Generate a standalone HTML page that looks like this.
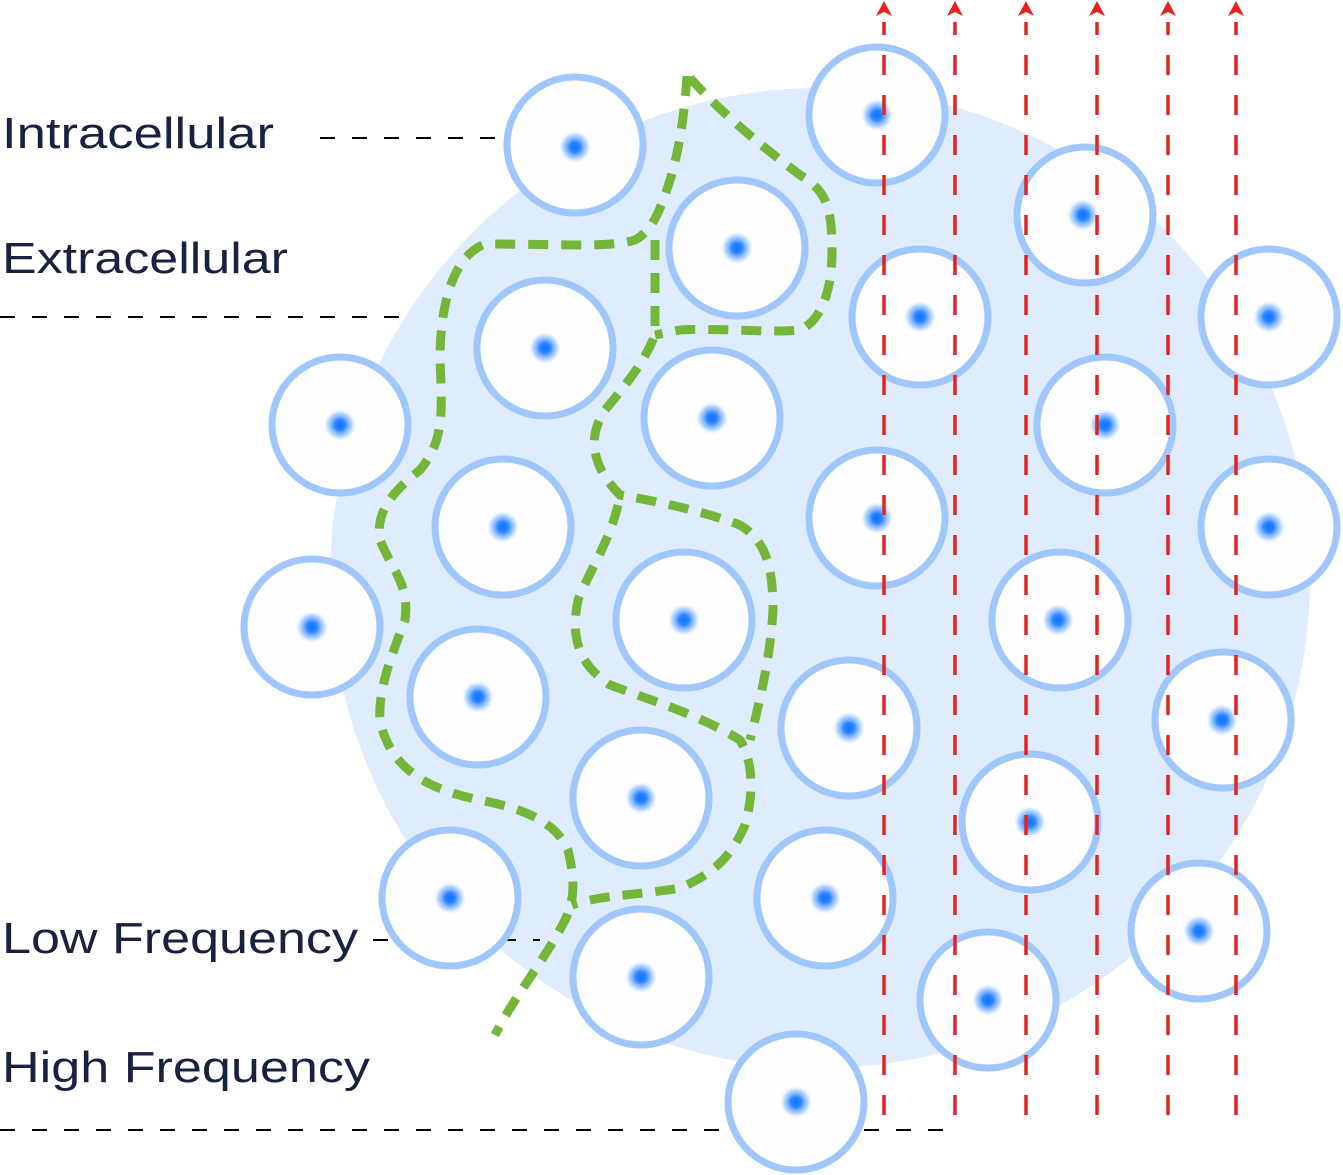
<!DOCTYPE html>
<html><head><meta charset="utf-8"><style>
html,body{margin:0;padding:0;background:#fff;}
svg{display:block;}
text{font-family:"Liberation Sans",sans-serif;fill:#18213f;font-size:44px;}
</style></head><body>
<svg width="1343" height="1175" viewBox="0 0 1343 1175" xmlns="http://www.w3.org/2000/svg">
<defs>
<radialGradient id="nuc">
<stop offset="0" stop-color="#0f72ff"/>
<stop offset="0.3" stop-color="#2a85ff"/>
<stop offset="0.7" stop-color="#8dbdff" stop-opacity="0.6"/>
<stop offset="1" stop-color="#ffffff" stop-opacity="0"/>
</radialGradient>
</defs>
<circle cx="820" cy="578" r="490" fill="#deecfd"/>
<g stroke="#000" stroke-width="2" stroke-dasharray="15 17" fill="none">
<line x1="320" y1="138" x2="532" y2="138"/>
<line x1="0" y1="317" x2="402" y2="317"/>
<line x1="373" y1="940" x2="540" y2="940"/>
<line x1="0" y1="1130" x2="960" y2="1130"/>
</g>
<g fill="none" stroke="#74b638" stroke-width="9" stroke-dasharray="20 13">
<path d="M687,76 C684,120 678,160 665,195 C658,215 650,232 635,240 C610,248 560,244 485,244 C455,255 440,300 440,360 C442,410 445,440 420,470 C395,490 375,510 380,540 C392,570 410,585 405,620 C390,660 378,690 380,720 C390,770 430,790 480,800 C520,808 555,820 568,850 C575,880 575,900 565,920 C545,960 515,995 495,1035"/>
<path d="M690,78 C710,100 740,130 800,175 C825,190 832,205 832,250 C832,290 822,320 800,330 C770,333 720,328 680,330 L655,335"/>
<path d="M655,240 L655,335 C645,360 630,380 605,410 C585,440 595,470 620,495 C650,500 700,510 740,525 C765,540 773,565 773,610 C770,660 760,700 750,740"/>
<path d="M618,505 C610,540 590,570 578,600 C570,640 580,665 610,685 C650,700 700,715 740,740 C752,760 755,790 745,825 C730,860 710,875 680,888 C640,895 600,895 572,905"/>
</g>
<g stroke="#9fc7fc" stroke-width="7" fill="#fefefe">
<circle cx="575" cy="145" r="68"/><circle cx="877" cy="115" r="68"/><circle cx="737" cy="248" r="68"/>
<circle cx="1085" cy="215" r="68"/><circle cx="545" cy="348" r="68"/><circle cx="920" cy="317" r="68"/>
<circle cx="1269" cy="317" r="68"/><circle cx="340" cy="425" r="68"/><circle cx="712" cy="418" r="68"/>
<circle cx="1105" cy="425" r="68"/><circle cx="503" cy="527" r="68"/><circle cx="877" cy="518" r="68"/>
<circle cx="1269" cy="527" r="68"/><circle cx="312" cy="627" r="68"/><circle cx="684" cy="620" r="68"/>
<circle cx="1060" cy="620" r="68"/><circle cx="478" cy="697" r="68"/><circle cx="849" cy="728" r="68"/>
<circle cx="1223" cy="720" r="68"/><circle cx="641" cy="798" r="68"/><circle cx="1030" cy="822" r="68"/>
<circle cx="450" cy="898" r="68"/><circle cx="825" cy="898" r="68"/><circle cx="1199" cy="931" r="68"/>
<circle cx="641" cy="977" r="68"/><circle cx="988" cy="1000" r="68"/><circle cx="796" cy="1102" r="68"/>
</g>
<g fill="url(#nuc)">
<circle cx="575" cy="147" r="17"/><circle cx="877" cy="115" r="17"/><circle cx="737" cy="248" r="17"/>
<circle cx="1083" cy="215" r="17"/><circle cx="545" cy="348" r="17"/><circle cx="920" cy="317" r="17"/>
<circle cx="1269" cy="317" r="17"/><circle cx="340" cy="425" r="17"/><circle cx="712" cy="418" r="17"/>
<circle cx="1105" cy="425" r="17"/><circle cx="503" cy="527" r="17"/><circle cx="877" cy="518" r="17"/>
<circle cx="1269" cy="527" r="17"/><circle cx="312" cy="627" r="17"/><circle cx="684" cy="620" r="17"/>
<circle cx="1058" cy="620" r="17"/><circle cx="478" cy="697" r="17"/><circle cx="849" cy="728" r="17"/>
<circle cx="1222" cy="720" r="17"/><circle cx="641" cy="798" r="17"/><circle cx="1030" cy="822" r="17"/>
<circle cx="450" cy="898" r="17"/><circle cx="825" cy="898" r="17"/><circle cx="1199" cy="931" r="17"/>
<circle cx="641" cy="977" r="17"/><circle cx="988" cy="1000" r="17"/><circle cx="796" cy="1102" r="17"/>
</g>
<g stroke="#e4231f" stroke-width="3.5" stroke-dasharray="20 20" fill="none">
<line x1="884" y1="1115" x2="884" y2="22"/>
<line x1="955" y1="1115" x2="955" y2="22"/>
<line x1="1026" y1="1115" x2="1026" y2="22"/>
<line x1="1097" y1="1115" x2="1097" y2="22"/>
<line x1="1168" y1="1115" x2="1168" y2="22"/>
<line x1="1236" y1="1115" x2="1236" y2="22"/>
</g>
<g fill="#e4231f">
<path d="M884,1 l-8,15 l8,-4 l8,4z"/><path d="M955,1 l-8,15 l8,-4 l8,4z"/><path d="M1026,1 l-8,15 l8,-4 l8,4z"/>
<path d="M1097,1 l-8,15 l8,-4 l8,4z"/><path d="M1168,1 l-8,15 l8,-4 l8,4z"/><path d="M1236,1 l-8,15 l8,-4 l8,4z"/>
</g>
<text x="2" y="148" textLength="272" lengthAdjust="spacingAndGlyphs">Intracellular</text>
<text x="2" y="273" textLength="286" lengthAdjust="spacingAndGlyphs">Extracellular</text>
<text x="2" y="953" textLength="356" lengthAdjust="spacingAndGlyphs">Low Frequency</text>
<text x="2" y="1082" textLength="368" lengthAdjust="spacingAndGlyphs">High Frequency</text>
</svg>
</body></html>
